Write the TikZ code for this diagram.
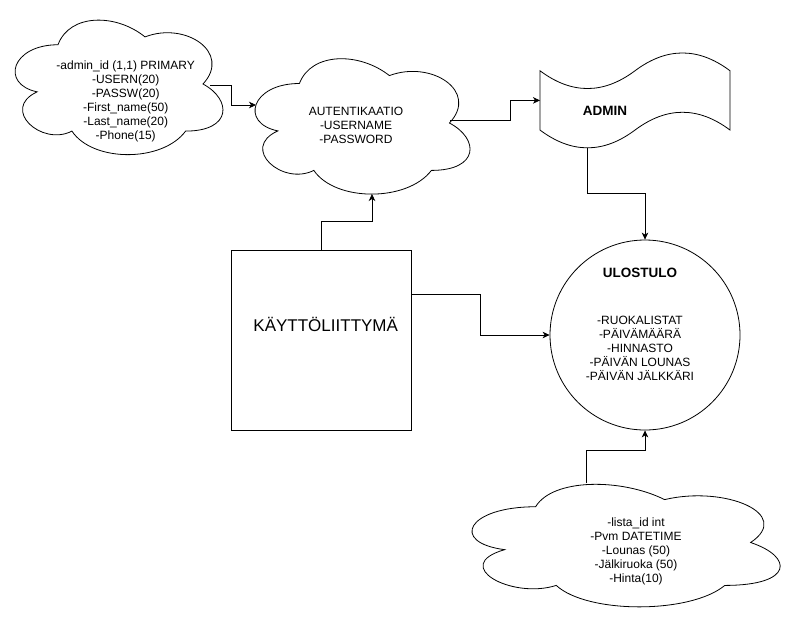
\documentclass[tikz,border=0pt]{standalone}
\usepackage{fontspec}
\setmainfont{Liberation Sans}
\usetikzlibrary{arrows.meta,calc}

% cloud in a box: x0, y0, width, height
\newcommand{\cloudshape}[4]{%
  \draw[shift={(#1,#2)},xscale=#3,yscale=#4] (0.25,0.25)
    .. controls (0.05,0.25) and (0,0.5) .. (0.16,0.55)
    .. controls (0,0.66) and (0.18,0.9) .. (0.31,0.8)
    .. controls (0.4,1) and (0.7,1) .. (0.8,0.8)
    .. controls (1,0.8) and (1,0.6) .. (0.875,0.5)
    .. controls (1,0.3) and (0.8,0.1) .. (0.625,0.2)
    .. controls (0.5,0.05) and (0.3,0.05) .. (0.25,0.25) -- cycle;}

\begin{document}
\begin{tikzpicture}[x=1pt,y=-1pt,line width=0.8pt,
    flow/.style={-{Stealth[length=7pt,width=6.5pt,inset=2pt]}},
    txt/.style={align=center,inner sep=0pt,font=\fontsize{12}{14}\selectfont},
    hd/.style={inner sep=0pt,font=\fontsize{13.5}{16}\selectfont\bfseries}]
\useasboundingbox (0,0) rectangle (791,616);

    % Clouds
    \cloudshape{0}{5.5}{232}{157}
    \node[txt] (admintbl) at (125.7,101) {-admin\_id (1,1) PRIMARY\\-USERN(20)\\-PASSW(20)\\-First\_name(50)\\-Last\_name(20)\\-Phone(15)};
    \cloudshape{239.4}{44}{240}{158}
    \node[txt] (auth) at (356,125.6) {AUTENTIKAATIO\\-USERNAME\\-PASSWORD};
    \cloudshape{449.6}{471}{344}{143}
    \node[txt] (lista) at (636,551) {-lista\_id int\\-Pvm DATETIME\\-Lounas (50)\\-Jälkiruoka (50)\\-Hinta(10)};

    % Admin tape
    \draw (540,70.75) .. controls (571.67,94.45) and (603.33,94.45) .. (635,70.75)
      .. controls (666.67,47.05) and (698.33,47.05) .. (730,70.75) -- (730,130.05)
      .. controls (698.33,106.35) and (666.67,106.35) .. (635,130.05)
      .. controls (603.33,153.75) and (571.67,153.75) .. (540,130.05) -- cycle;
    \node[hd] (admin) at (605,111) {ADMIN};

    % Output and UI
    \node[draw,circle,minimum size=190,inner sep=0pt] (out) at (645,335) {};
    \node[hd] (outtitle) at (640,273.3) {ULOSTULO};
    \node[txt] (outlist) at (640,348.3) {-RUOKALISTAT\\-PÄIVÄMÄÄRÄ\\-HINNASTO\\-PÄIVÄN LOUNAS\\-PÄIVÄN JÄLKKÄRI};
    \node[draw,minimum width=180,minimum height=180,inner sep=0pt] (ui) at (321,340) {};
    \node[inner sep=0pt,font=\fontsize{17}{20}\selectfont] (uitext) at (325.7,324.3) {KÄYTTÖLIITTYMÄ};

    % Connectors
    \coordinate (adminout) at (210,85);
    \coordinate (authin) at (256,105);
    \coordinate (authout) at (450,120);
    \coordinate (authbot) at (372,194);
    \coordinate (tapein) at (540,100.4);
    \coordinate (tapeout) at (587.5,147.8);
    \coordinate (listatop) at (586,483);
    \coordinate (uiout) at ($(ui.north east)!0.25!(ui.south east)$);
    \draw[flow] (adminout) -- ++(21,0) |- (authin);
    \draw[flow] (authout) -- ++(60,0) |- (tapein);
    \draw[flow] (ui.north) |- ($(ui.north)!0.5!(authbot)$) -| (authbot);
    \draw[flow] (tapeout) |- ($(tapeout)!0.5!(out.north)$) -| (out.north);
    \draw[flow] (uiout) -| ($(uiout)!0.5!(out.west)$) |- (out.west);
    \draw[flow] (listatop) -- ++(0,-33) -| (out.south);
\end{tikzpicture}
\end{document}
